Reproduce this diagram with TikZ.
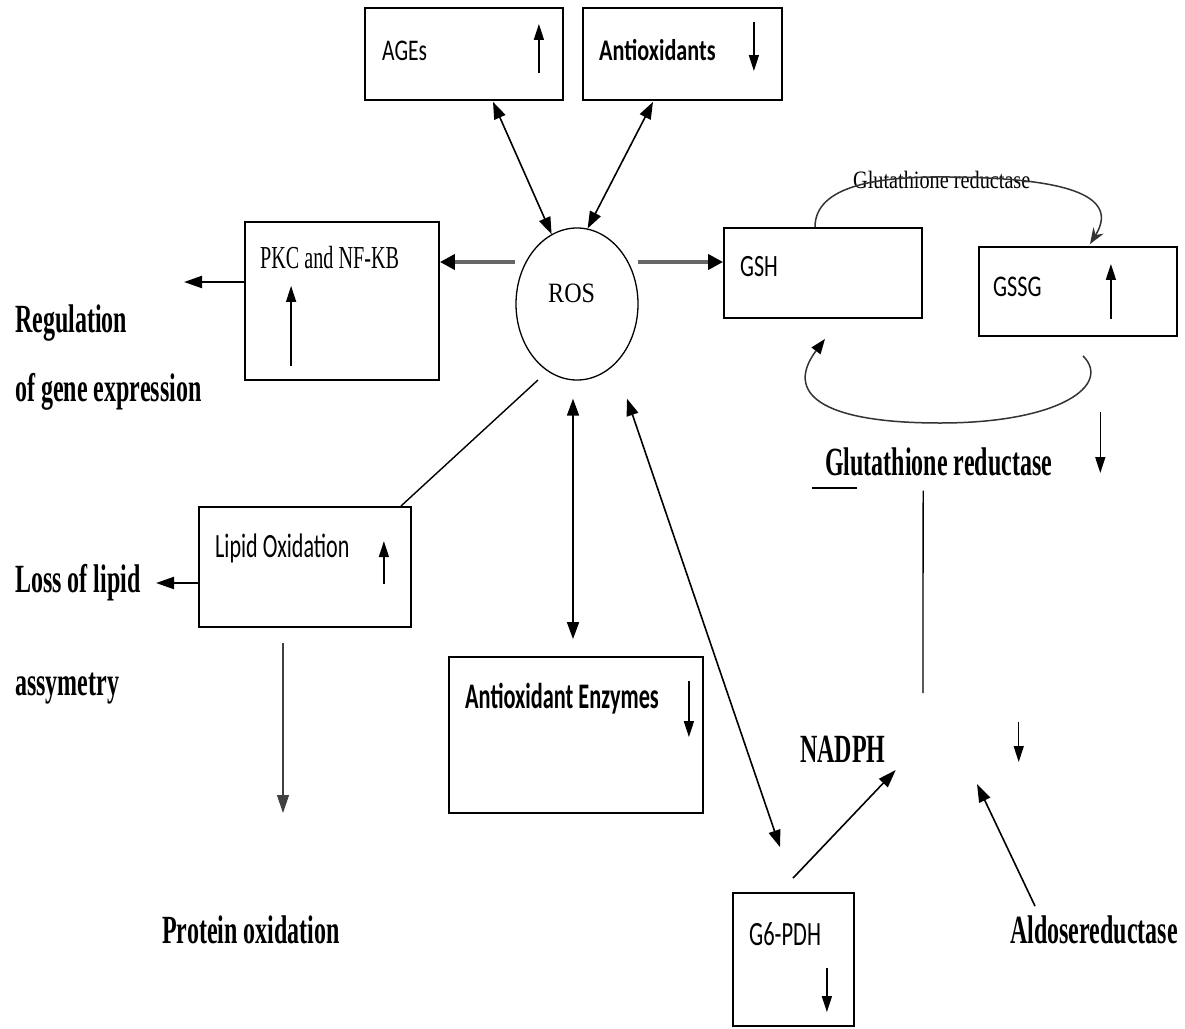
\documentclass[tikz,border=0pt]{standalone}
\usepackage{fontspec}
\usepackage{graphicx}
\setmainfont{Liberation Serif}
\newfontfamily\calf{Carlito}
\usetikzlibrary{arrows.meta,calc,shapes.geometric}
\newcommand{\nx}[2]{\scalebox{#1}[1]{#2}}
\tikzset{
  box/.style={draw, line width=1.8pt, rectangle, inner sep=0pt},
  lbl/.style={anchor=base west, inner sep=0pt},
  bigb/.style={lbl, font=\fontsize{40}{44}\selectfont\bfseries},
  con/.style={line width=1.6pt, -{Triangle[length=18pt,width=12pt]}},
  dbl/.style={line width=1.6pt, {Triangle[length=17pt,width=12pt]}-{Triangle[length=17pt,width=12pt]}},
  gcon/.style={line width=4pt, draw=black!60, -{Triangle[length=15pt,width=15pt,color=black]}},
  ind/.style={line width=1.4pt, -{Triangle[length=16pt,width=10pt]}},
  curv/.style={line width=1.5pt, draw=black!80},
}
\begin{document}
\begin{tikzpicture}[x=1pt,y=-1pt]
\useasboundingbox (0,0) rectangle (1185,1028);

% boxes
\node[box, minimum width=198pt, minimum height=92pt] (ages) at (464,54) {};
\node[box, minimum width=199pt, minimum height=92pt] (antiox) at (682.5,54) {};
\node[box, minimum width=194pt, minimum height=158pt] (pkc) at (342,301) {};
\node[box, minimum width=198pt, minimum height=90pt] (gsh) at (823,273) {};
\node[box, minimum width=198pt, minimum height=89pt] (gssg) at (1078,291.5) {};
\node[box, minimum width=212pt, minimum height=120pt] (lipid) at (305,567) {};
\node[box, minimum width=254pt, minimum height=156pt] (ae) at (576,735) {};
\node[box, minimum width=121pt, minimum height=133pt] (g6) at (793.5,959.5) {};
\node[draw, ellipse, line width=1.3pt, minimum width=122pt, minimum height=152pt, inner sep=0pt] (ros) at (577,304) {};

% texts in boxes
\node[lbl, font=\calf\fontsize{30}{32}\selectfont] (tages) at (382,60) {\nx{0.72}{AGEs}};
\node[lbl, font=\calf\bfseries\fontsize{30}{32}\selectfont] (tantiox) at (599,60) {\nx{0.74}{Antioxidants}};
\node[lbl, font=\fontsize{32}{34}\selectfont] (tpkc) at (260,268) {\nx{0.63}{PKC and NF-KB}};
\node[lbl, font=\fontsize{28}{30}\selectfont] (tros) at (548,302) {\nx{0.86}{ROS}};
\node[lbl, font=\calf\fontsize{31}{33}\selectfont] (tgsh) at (740,276) {\nx{0.71}{GSH}};
\node[lbl, font=\calf\fontsize{30}{32}\selectfont] (tgssg) at (993,296) {\nx{0.74}{GSSG}};
\node[lbl, font=\calf\fontsize{34}{36}\selectfont] (tlipid) at (215,557) {\nx{0.65}{Lipid Oxidation}};
\node[lbl, font=\calf\bfseries\fontsize{36}{38}\selectfont] (tae) at (465,708) {\nx{0.62}{Antioxidant Enzymes}};
\node[lbl, font=\calf\fontsize{34}{36}\selectfont] (tg6) at (749,945) {\nx{0.66}{G6-PDH}};

% free labels
\node[bigb] (reg1) at (15,332) {\nx{0.6}{Regulation}};
\node[bigb] (reg2) at (15,401) {\nx{0.6}{of gene expression}};
\node[bigb] (loss1) at (15,592) {\nx{0.6}{Loss of lipid}};
\node[bigb] (loss2) at (15,695) {\nx{0.6}{assymetry}};
\node[bigb] (prot) at (162,943) {\nx{0.6}{Protein oxidation}};
\node[bigb] (glr) at (825,475) {\nx{0.6}{Glutathione reductase}};
\node[bigb] (nadph) at (800,762) {\nx{0.6}{NADPH}};
\node[bigb] (aldose) at (1010,943) {\nx{0.6}{Aldosereductase}};
\node[lbl, font=\fontsize{25}{27}\selectfont] (glrtop) at (853,188) {\nx{0.81}{Glutathione reductase}};

% free ends
\coordinate (regEnd) at (184,282);
\coordinate (lossEnd) at (156,583);
\coordinate (protEnd) at (283,813);
\coordinate (vEnd) at (923,693);
\coordinate (nadR) at (977,784);

% connectors
\draw[dbl] ($(ages.south)+(29,1)$) -- (ros.110);
\draw[dbl] ($(antiox.south)+(-29.5,1)$) -- (ros.82);
\draw[gcon] ($(ros.center)+(-62,-42)$) -- ($(pkc.east)+(0,-39)$);
\draw[gcon] ($(ros.center)+(61,-42)$) -- ($(gsh.west)+(0,-11)$);
\draw[con, line width=2.2pt] ($(pkc.west)+(0,-19)$) -- (regEnd);
\draw[con, line width=2.2pt] ($(lipid.west)+(0,16)$) -- (lossEnd);
\draw[line width=1.4pt] ($(ros.center)+(-39,76)$) -- ($(lipid.north east)+(-11,0)$);
\draw[con, line width=1.2pt, draw=black!75] ($(lipid.south)+(-22,15)$) -- (protEnd);
\draw[dbl] ($(ros.south)+(-4,18)$) -- ($(ae.north)+(-3,-17)$);
\draw[dbl] ($(ros.south)+(50,18)$) -- ($(g6.north)+(-13.5,-45)$);
\draw[con] ($(g6.north)+(-0.5,-14)$) -- ($(nadph.base east)+(10,8)$);
\draw[con] ($(aldose.north west)+(25,-9)$) -- (nadR);
\draw[line width=1.3pt] ($(glr.south)+(-15.5,15)$) -- (vEnd);
\draw[line width=2pt] ($(glr.base west)+(-13,13)$) -- ++(45,0);

% glutathione cycle curves
\draw[curv, -{Stealth[length=16pt,width=12pt]}] ($(gsh.north)+(-8,0)$) .. controls (815,185) and (880,176) .. (950,177) .. controls (1040,178) and (1125,188) .. ($(gssg.north)+(12,-2)$);
\draw[curv, -{Triangle[length=15pt,width=11pt,color=black]}] ($(gssg.south)+(5,19)$) .. controls (1112,385) and (1060,423) .. (940,423) .. controls (818,423) and (785,392) .. ($(gsh.south)+(2,20)$);

% indicator arrows
\draw[ind] ($(ages.south east)+(-25,-28)$) -- ++(0,-49);
\draw[ind] ($(antiox.north east)+(-29,15)$) -- ++(0,49);
\draw[ind] ($(pkc.south west)+(47,-15)$) -- ++(0,-80);
\draw[ind] ($(gssg.south east)+(-67,-18)$) -- ++(0,-55);
\draw[ind] ($(lipid.north east)+(-28,78)$) -- ++(0,-43);
\draw[ind] ($(ae.north east)+(-15,25)$) -- ++(0,56);
\draw[ind] ($(g6.north east)+(-28,76)$) -- ++(0,44);
\draw[ind] ($(glr.base east)+(48,-63)$) -- ++(0,61);
\draw[ind] ($(nadph.base east)+(133,-40)$) -- ++(0,40);
\end{tikzpicture}
\end{document}
